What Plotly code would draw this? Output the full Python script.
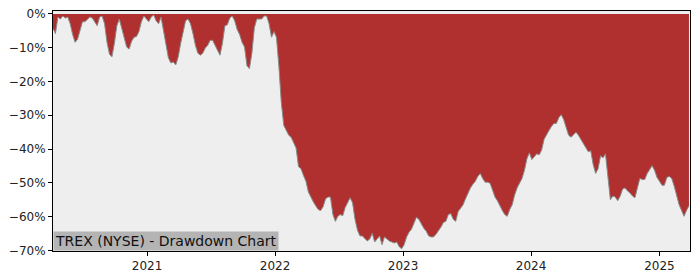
import pandas as pd
import plotly.graph_objects as go

# Weekly drawdown (%) of TREX (NYSE), starting 2020-04-08
start_date = "2020-04-08"
drawdown_pct = [
    -4.3, -5.8, -0.9, -1.5, -0.6, -1.2, -0.9, -2.9, -6.1, -8.4,
    -7.5, -4.9, -2.3, -2.3, -1.7, -0.9, -1.2, -2.3, -3.5, -0.9,
    -0.6, -2.9, -8.4, -11.9, -12.7, -8.7, -3.5, -1.5, -4.1, -6.7,
    -9.8, -10.4, -8.1, -6.9, -6.7, -5.2, -2.3, -0.6, -1.5, -2.3,
    -0.9, -0.3, -2.0, -2.9, -0.9, -5.2, -9.0, -13.0, -14.5, -14.2,
    -15.1, -12.7, -8.7, -5.2, -2.0, -1.5, -2.9, -5.8, -9.3, -11.6,
    -12.2, -11.6, -10.1, -9.3, -7.8, -7.8, -9.3, -11.0, -12.2, -8.7,
    -3.5, -3.2, -1.2, -0.6, -2.0, -4.6, -6.1, -8.4, -9.8, -15.3,
    -16.2, -11.6, -4.1, -1.5, -1.5, -1.5, -0.6, -0.6, -2.9, -6.9,
    -5.2, -6.9, -15.6, -26.4, -33.0, -34.5, -35.9, -36.5, -37.9, -39.7,
    -45.2, -45.8, -47.8, -49.5, -52.7, -54.4, -55.6, -56.8, -57.9, -58.2,
    -57.1, -54.7, -54.2, -54.2, -59.4, -61.4, -59.9, -59.4, -59.7, -57.3,
    -55.9, -54.4, -55.9, -60.8, -64.0, -65.7, -65.7, -66.6, -67.2, -66.6,
    -64.9, -67.5, -66.6, -65.7, -68.3, -66.0, -66.6, -67.2, -67.5, -67.8,
    -67.5, -68.9, -69.5, -68.3, -66.0, -64.6, -63.7, -62.0, -60.2, -60.8,
    -62.3, -63.4, -64.3, -65.7, -66.0, -66.0, -65.2, -64.3, -63.1, -61.7,
    -61.4, -59.4, -59.1, -60.8, -61.4, -58.5, -57.6, -56.5, -54.7, -53.0,
    -51.5, -50.4, -49.5, -48.1, -47.2, -48.7, -49.8, -49.8, -50.1, -52.1,
    -54.2, -55.3, -57.0, -58.2, -59.4, -59.9, -57.9, -56.5, -53.6, -51.5,
    -50.1, -48.7, -46.3, -42.9, -41.1, -43.1, -42.3, -41.4, -41.7, -40.3,
    -37.1, -35.6, -34.5, -33.3, -32.4, -32.4, -30.7, -29.8, -31.3, -33.6,
    -35.9, -36.5, -35.6, -35.0, -35.9, -37.1, -38.5, -39.7, -40.8, -40.5,
    -44.6, -47.2, -45.8, -42.0, -42.6, -41.4, -47.8, -55.0, -53.9, -54.2,
    -55.3, -53.9, -51.8, -51.5, -52.4, -53.0, -53.9, -54.4, -51.5, -48.7,
    -49.0, -49.0, -47.2, -46.0, -44.9, -46.3, -48.4, -49.5, -50.7, -50.7,
    -48.4, -48.1, -48.7, -51.0, -53.9, -56.5, -58.2, -59.9, -58.2, -56.8,
]

y_tick_values = [0, -10, -20, -30, -40, -50, -60, -70]
y_tick_labels = ["0%", "\u221210%", "\u221220%", "\u221230%", "\u221240%",
                 "\u221250%", "\u221260%", "\u221270%"]
x_tick_values = ["2021-01-01", "2022-01-01", "2023-01-01", "2024-01-01", "2025-01-01"]
x_tick_labels = ["2021", "2022", "2023", "2024", "2025"]
title_text = "TREX (NYSE) - Drawdown Chart"

dates = pd.date_range(start_date, periods=len(drawdown_pct), freq="7D")
zeros = [0] * len(drawdown_pct)

fig = go.Figure()
fig.add_trace(go.Scatter(x=dates, y=zeros, mode="lines",
                         line=dict(width=0, color="#b03030"),
                         hoverinfo="skip", showlegend=False))
fig.add_trace(go.Scatter(x=dates, y=drawdown_pct, mode="lines",
                         fill="tonexty", fillcolor="#b03030",
                         line=dict(color="#8a8a8a", width=1),
                         showlegend=False))

fig.add_annotation(text=title_text, xref="paper", yref="paper",
                   x=0, y=0, xanchor="left", yanchor="bottom",
                   showarrow=False, bgcolor="#b4b4b4", borderpad=1,
                   font=dict(family="DejaVu Sans", size=14, color="#111111"))

fig.update_layout(
    width=700, height=280,
    margin=dict(l=53, r=10, t=7, b=28),
    paper_bgcolor="white", plot_bgcolor="#eeeeee",
    font=dict(family="DejaVu Sans", size=12, color="#222222"),
)
fig.update_xaxes(type="date", range=["2020-04-08", "2025-03-29"],
                 tickvals=x_tick_values, ticktext=x_tick_labels,
                 ticks="outside", ticklen=4, tickcolor="black",
                 showgrid=False, zeroline=False,
                 showline=True, mirror=True, linecolor="black", linewidth=1)
fig.update_yaxes(range=[-70.17, 0.87],
                 tickvals=y_tick_values, ticktext=y_tick_labels,
                 ticks="outside", ticklen=4, tickcolor="black",
                 showgrid=False, zeroline=False,
                 showline=True, mirror=True, linecolor="black", linewidth=1)

fig.write_html("out.html")
